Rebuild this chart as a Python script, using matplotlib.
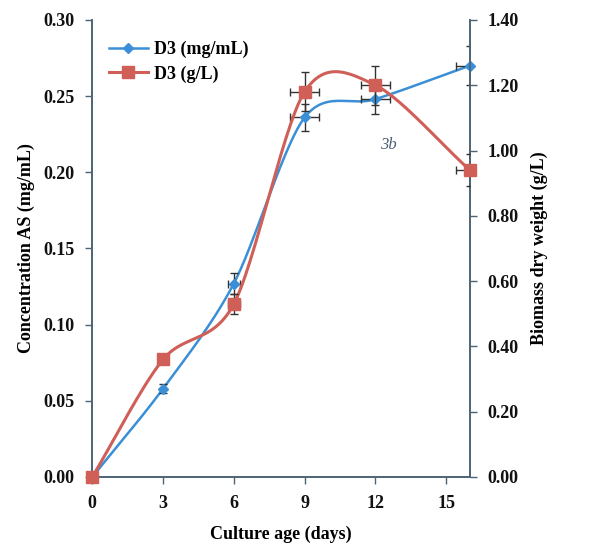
import numpy as np
import matplotlib.pyplot as plt

# -----------------------------
# Data
# -----------------------------
days = [0, 3, 6, 9, 12, 16]
conc_as = [0.0, 0.058, 0.127, 0.236, 0.248, 0.270]      # mg/mL (left axis)
conc_err = [0.0, 0.003, 0.007, 0.009, 0.010, 0.013]
biomass = [0.0, 0.36, 0.53, 1.18, 1.20, 0.94]            # g/L (right axis)
biomass_err = [0.0, 0.0, 0.03, 0.06, 0.06, 0.05]
day_err = [0.0, 0.0, 0.25, 0.6, 0.6, 0.6]

x_ticks = [0, 3, 6, 9, 12, 15]
left_ticks = [0.0, 0.05, 0.10, 0.15, 0.20, 0.25, 0.30]
right_ticks = [0.0, 0.20, 0.40, 0.60, 0.80, 1.00, 1.20, 1.40]

BLUE = "#3b8fd6"
RED = "#cf5f57"
AXC = "#4d6475"
FONT = "Liberation Serif"


def smooth(x, y, n=30, k=0.15):
    """Catmull-Rom style curve through the points (like Excel's smoothed line)."""
    x = np.asarray(x, float)
    y = np.asarray(y, float)
    px = np.concatenate([[2 * x[0] - x[1]], x, [2 * x[-1] - x[-2]]])
    py = np.concatenate([[2 * y[0] - y[1]], y, [2 * y[-1] - y[-2]]])
    xs, ys = [], []
    t = np.linspace(0, 1, n)
    for i in range(1, len(px) - 2):
        p0, p1, p2, p3 = px[i - 1:i + 3]
        q0, q1, q2, q3 = py[i - 1:i + 3]
        m1x, m2x = (p2 - p0) * k, (p3 - p1) * k
        m1y, m2y = (q2 - q0) * k, (q3 - q1) * k
        # cubic bezier
        bx = ((1 - t) ** 3 * p1 + 3 * (1 - t) ** 2 * t * (p1 + m1x)
              + 3 * (1 - t) * t ** 2 * (p2 - m2x) + t ** 3 * p2)
        by = ((1 - t) ** 3 * q1 + 3 * (1 - t) ** 2 * t * (q1 + m1y)
              + 3 * (1 - t) * t ** 2 * (q2 - m2y) + t ** 3 * q2)
        xs.append(bx)
        ys.append(by)
    return np.concatenate(xs), np.concatenate(ys)


fig = plt.figure(figsize=(6.07, 5.54), dpi=100)
ax = fig.add_axes([0.152, 0.139, 0.622, 0.825])
ax2 = ax.twinx()

# -----------------------------
# Series
# -----------------------------
sx, sy = smooth(days, biomass)
ax2.plot(sx, sy, color=RED, lw=2.2, zorder=2)
ax2.errorbar(days, biomass, yerr=biomass_err, xerr=day_err, fmt="none",
             ecolor="#333333", elinewidth=1, capsize=3, zorder=3)
ax2.plot(days, biomass, "s", color=RED, ms=8, zorder=4, clip_on=False)

bx, by = smooth(days, conc_as)
ax.plot(bx, by, color=BLUE, lw=1.8, zorder=2)
ax.errorbar(days, conc_as, yerr=conc_err, xerr=day_err, fmt="none",
            ecolor="#333333", elinewidth=1, capsize=3, zorder=3)
ax.plot(days[1:], conc_as[1:], "D", color=BLUE, ms=5, zorder=4, clip_on=False)

ax2.set_zorder(ax.get_zorder() + 1)
ax2.patch.set_visible(False)

# -----------------------------
# Axes styling
# -----------------------------
ax.set_xlim(0, 16)
ax.set_ylim(0, 0.30)
ax2.set_ylim(0, 1.40)
ax.set_xticks(x_ticks)
ax.set_yticks(left_ticks)
ax2.set_yticks(right_ticks)
ax.set_xticklabels([str(v) for v in x_ticks])
ax.set_yticklabels([f"{v:.2f}" for v in left_ticks])
ax2.set_yticklabels([f"{v:.2f}" for v in right_ticks])

for a in (ax, ax2):
    a.spines["top"].set_visible(False)
    for s in ("left", "right", "bottom"):
        a.spines[s].set_color(AXC)
        a.spines[s].set_linewidth(1.2)
    a.tick_params(colors=AXC, length=5, width=1, labelcolor="#111111",
                  labelsize=13, pad=8)
    for lab in a.get_xticklabels() + a.get_yticklabels():
        lab.set_fontfamily(FONT)
        lab.set_fontweight("bold")

ax.set_xlabel("Culture age (days)", fontfamily=FONT, fontweight="bold",
              fontsize=13, labelpad=10)
ax.set_ylabel("Concentration AS (mg/mL)", fontfamily=FONT, fontweight="bold",
              fontsize=13, labelpad=6)
ax2.set_ylabel("Biomass dry weight (g/L)", fontfamily=FONT, fontweight="bold",
               fontsize=13, labelpad=8)

ax.text(12.2, 0.215, "3b", fontfamily=FONT, fontstyle="italic", fontsize=12,
        color="#4d5f75")

# -----------------------------
# Legend
# -----------------------------
h1, = ax.plot([], [], "-D", color=BLUE, lw=1.8, ms=5)
h2, = ax.plot([], [], "-s", color=RED, lw=2.2, ms=8)
ax2.legend([h1, h2], ["D3 (mg/mL)", "D3 (g/L)"], loc="upper left",
           bbox_to_anchor=(0.0, 0.99), frameon=False, handlelength=2.2,
           handletextpad=0.3, labelspacing=0.4,
           prop={"family": FONT, "weight": "bold", "size": 13})

fig.savefig("out.png", dpi=100)
